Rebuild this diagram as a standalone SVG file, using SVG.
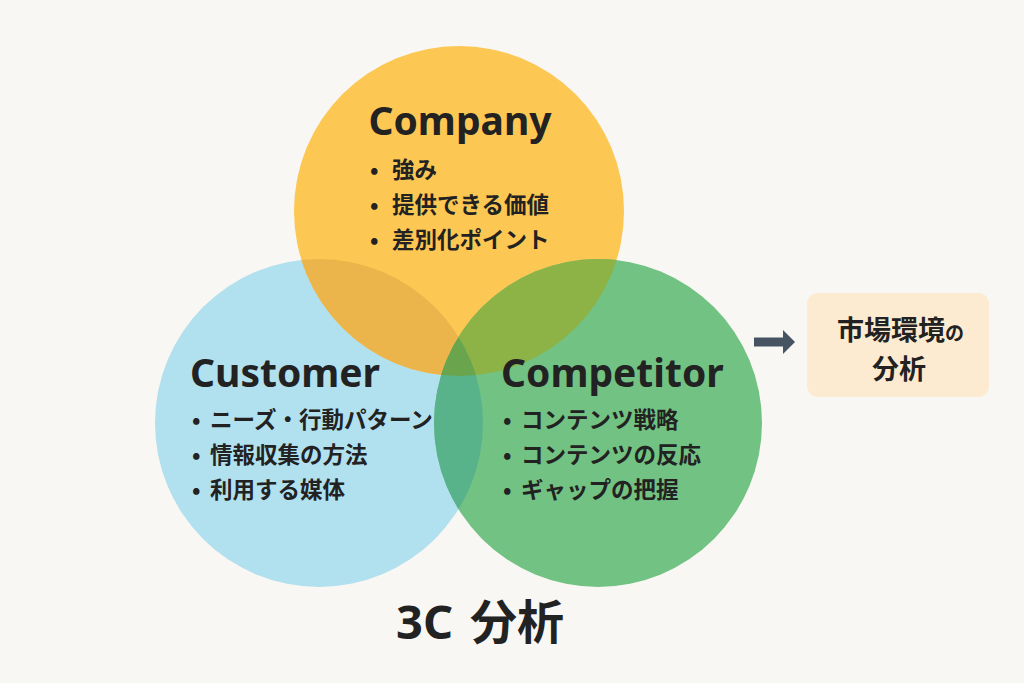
<svg xmlns="http://www.w3.org/2000/svg" width="1024" height="683" viewBox="0 0 1024 683">
<defs>
<style>
.title{font-family:"Noto Sans","Liberation Sans",sans-serif;font-weight:700;font-size:39px;fill:#222222}
.item{font-family:"Noto Sans CJK JP","Noto Sans",sans-serif;font-weight:700;font-size:22.5px;fill:#222222}
.box{font-family:"Noto Sans CJK JP","Noto Sans",sans-serif;font-weight:700;fill:#222222}
</style>
<clipPath id="clipCompany"><circle cx="459" cy="211" r="165"/></clipPath>
<clipPath id="clipCustomer"><circle cx="319" cy="423" r="164"/></clipPath>
<clipPath id="clipCompetitor"><circle cx="598" cy="423" r="164"/></clipPath>
<marker id="arrowHead" viewBox="0 0 12 24" refX="0" refY="12" markerWidth="12" markerHeight="24" markerUnits="userSpaceOnUse" orient="auto">
<path d="M0,0 L12,12 L0,24 Z" fill="#465462"/>
</marker>
</defs>
<rect x="0" y="0" width="1024" height="683" fill="#F8F7F3"/>

<g id="customer">
<circle cx="319" cy="423" r="164" fill="#B1E0EF"/>
</g>
<g id="company">
<circle cx="459" cy="211" r="165" fill="#FDC753"/>
</g>
<g id="competitor">
<circle cx="598" cy="423" r="164" fill="#72C283"/>
</g>
<g id="overlaps">
<g clip-path="url(#clipCustomer)"><circle cx="459" cy="211" r="165" fill="#ECB54B"/></g>
<g clip-path="url(#clipCompany)"><circle cx="598" cy="423" r="164" fill="#8DB346"/></g>
<g clip-path="url(#clipCustomer)"><circle cx="598" cy="423" r="164" fill="#58B38B"/></g>
<g clip-path="url(#clipCompany)"><g clip-path="url(#clipCustomer)"><circle cx="598" cy="423" r="164" fill="#6AA54D"/></g></g>
</g>

<g id="company-text">
<text class="title" x="460" y="135" text-anchor="middle">Company</text>
<text class="item" y="178"><tspan x="370">•</tspan><tspan x="392">強み</tspan></text>
<text class="item" y="213"><tspan x="370">•</tspan><tspan x="392">提供できる価値</tspan></text>
<text class="item" y="248"><tspan x="370">•</tspan><tspan x="392">差別化ポイント</tspan></text>
</g>

<g id="customer-text">
<text class="title" x="190" y="387">Customer</text>
<text class="item" y="428"><tspan x="192">•</tspan><tspan x="210">ニーズ・行動パターン</tspan></text>
<text class="item" y="463"><tspan x="192">•</tspan><tspan x="210">情報収集の方法</tspan></text>
<text class="item" y="498"><tspan x="192">•</tspan><tspan x="210">利用する媒体</tspan></text>
</g>

<g id="competitor-text">
<text class="title" x="501" y="387">Competitor</text>
<text class="item" y="428"><tspan x="503">•</tspan><tspan x="521">コンテンツ戦略</tspan></text>
<text class="item" y="463"><tspan x="503">•</tspan><tspan x="521">コンテンツの反応</tspan></text>
<text class="item" y="498"><tspan x="503">•</tspan><tspan x="521">ギャップの把握</tspan></text>
</g>

<g id="connectors">
<line x1="754" y1="342" x2="783" y2="342" stroke="#465462" stroke-width="9" marker-end="url(#arrowHead)"/>
</g>

<g id="market-analysis">
<rect x="807" y="293" width="182" height="104" rx="11" fill="#FCEBD0"/>
<text class="box" y="340"><tspan x="837" font-size="27">市場環境</tspan><tspan font-size="19">の</tspan></text>
<text class="box" x="899" y="379" font-size="27" text-anchor="middle">分析</text>
</g>

<g id="caption">
<text y="639" font-weight="700" font-size="47" fill="#222222"><tspan x="396" font-family="Noto Sans, Liberation Sans, sans-serif">3C</tspan><tspan x="470" font-family="Noto Sans CJK JP, Noto Sans, sans-serif">分析</tspan></text>
</g>
</svg>
